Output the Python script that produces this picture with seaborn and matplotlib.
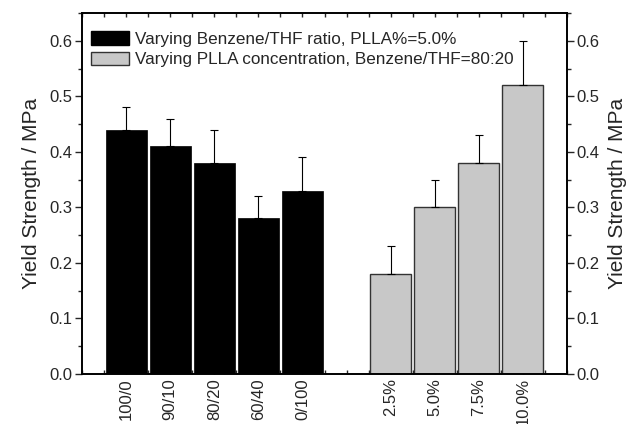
import numpy as np
import pandas as pd
import matplotlib
matplotlib.use("Agg")
import matplotlib.pyplot as plt
from matplotlib.ticker import MultipleLocator, FormatStrFormatter
from matplotlib.patches import Patch
import seaborn as sns

# ---- data ----
ratio_labels = ["100/0", "90/10", "80/20", "60/40", "0/100"]
ratio_values = [0.44, 0.41, 0.38, 0.28, 0.33]
ratio_errors = [0.04, 0.05, 0.06, 0.04, 0.06]

conc_labels = ["2.5%", "5.0%", "7.5%", "10.0%"]
conc_values = [0.18, 0.30, 0.38, 0.52]
conc_errors = [0.05, 0.05, 0.05, 0.08]

legend_ratio = "Varying Benzene/THF ratio, PLLA%=5.0%"
legend_conc = "Varying PLLA concentration, Benzene/THF=80:20"
ylabel = "Yield Strength / MPa"

sns.set_theme(style="ticks")
plt.rcParams["font.family"] = ["Liberation Sans", "DejaVu Sans"]

ratio_pos = list(range(1, len(ratio_labels) + 1))
conc_pos = list(range(len(ratio_labels) + 2, len(ratio_labels) + 2 + len(conc_labels)))

df = pd.DataFrame({
    "pos": ratio_pos + conc_pos,
    "value": ratio_values + conc_values,
    "err": ratio_errors + conc_errors,
    "group": ["ratio"] * len(ratio_pos) + ["conc"] * len(conc_pos),
    "label": ratio_labels + conc_labels,
})

fig = plt.figure(figsize=(6.34, 4.24), dpi=100)
ax = fig.add_axes([82 / 634, 1 - 374 / 424, (567 - 82) / 634, (374 - 13) / 424])

palette = {"ratio": "black", "conc": "#c8c8c8"}
sns.barplot(data=df, x="pos", y="value", hue="group", palette=palette,
            native_scale=True, dodge=False, width=0.93, errorbar=None,
            legend=False, ax=ax, linewidth=1.0)
for patch in ax.patches:
    fc = patch.get_facecolor()
    if fc[0] < 0.1:
        patch.set_edgecolor("black")
        patch.set_linewidth(0.5)
    else:
        patch.set_edgecolor("#333333")
        patch.set_linewidth(1.0)

ax.errorbar(df["pos"], df["value"], yerr=[np.zeros(len(df)), df["err"]],
            fmt="none", ecolor="black", elinewidth=0.8, capsize=3, capthick=0.8)

ax.set_xlim(0, 11)
ax.set_ylim(0, 0.65)
ax.set_xticks(df["pos"])
ax.set_xticklabels(df["label"], rotation=90, fontsize=12)
ax.xaxis.set_minor_locator(MultipleLocator(0.5))
ax.yaxis.set_major_locator(MultipleLocator(0.1))
ax.yaxis.set_minor_locator(MultipleLocator(0.05))
ax.yaxis.set_major_formatter(FormatStrFormatter("%.1f"))
ax.tick_params(axis="x", which="both", direction="in", top=True, bottom=True,
               length=3, width=1, pad=3)
ax.tick_params(axis="y", which="major", direction="out", length=5, width=1,
               labelsize=12, left=True, right=False, pad=2)
ax.tick_params(axis="y", which="minor", direction="out", length=3, width=1,
               left=True, right=False)
ax.set_xlabel("")
ax.set_ylabel(ylabel, fontsize=15, labelpad=6)
for s in ax.spines.values():
    s.set_visible(True)
    s.set_linewidth(1.2)
    s.set_color("black")

ax2 = ax.twinx()
ax2.set_ylim(0, 0.65)
ax2.yaxis.set_major_locator(MultipleLocator(0.1))
ax2.yaxis.set_minor_locator(MultipleLocator(0.05))
ax2.yaxis.set_major_formatter(FormatStrFormatter("%.1f"))
ax2.tick_params(axis="y", which="major", direction="out", length=5, width=1,
                labelsize=12, pad=2)
ax2.tick_params(axis="y", which="minor", direction="out", length=3, width=1)
ax2.set_ylabel(ylabel, fontsize=15, rotation=90, labelpad=6)
for s in ax2.spines.values():
    s.set_linewidth(1.2)
    s.set_color("black")

handles = [Patch(facecolor="black", edgecolor="black", label=legend_ratio),
           Patch(facecolor="#c8c8c8", edgecolor="#333333", label=legend_conc)]
ax.legend(handles=handles, loc="upper left", bbox_to_anchor=(0.0186, 0.95),
          frameon=False, fontsize=12.3, handlelength=2.25, handleheight=0.85,
          handletextpad=0.3, labelspacing=0.28, borderaxespad=0.0, borderpad=0.0)

fig.savefig("out.png", dpi=100)
